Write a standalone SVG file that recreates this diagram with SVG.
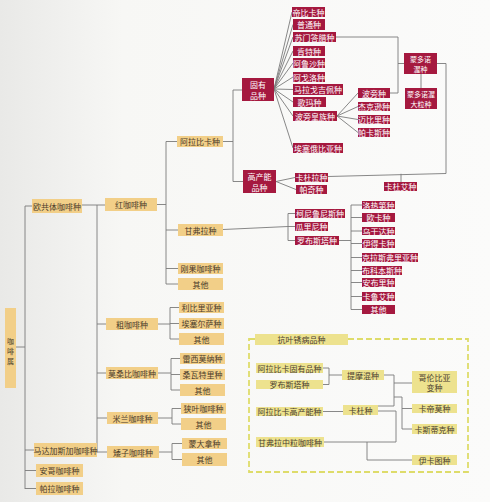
<svg xmlns="http://www.w3.org/2000/svg" width="490" height="502" viewBox="0 0 490 502">
<defs>
<linearGradient id="bg" x1="0" y1="0" x2="1" y2="0">
<stop offset="0" stop-color="#e9e9e7"/>
<stop offset="0.25" stop-color="#f7f7f5"/>
<stop offset="1" stop-color="#fbfbfa"/>
</linearGradient>
</defs>
<style>
.t rect{fill:#f2cf88}
.t text{fill:#4a3b2a}
.r rect{fill:#a5193f}
.r text{fill:#ffffff}
.y rect{fill:#ede28e}
.y text{fill:#4a4030}
text{font-family:"Noto Sans CJK SC","Noto Sans",sans-serif;font-size:8px;text-anchor:middle;dominant-baseline:central}
.s{font-size:7px}
.c{fill:none;stroke:#7a7a7a;stroke-width:0.9}
</style>
<rect x="0" y="0" width="490" height="502" fill="url(#bg)"/>
<rect x="249" y="339" width="219" height="133" fill="none" stroke="#dedc6a" stroke-width="1.8" stroke-dasharray="6 3"/>
<g id="connectors" class="c">
<path d="M16 347H25M25 206V489M25 206H32M25 450H34M25 470.5H36M25 488.5H36"/>
<path d="M82 205H105M97 205V452M97 324H106M97 373H106M97 418H107M97 452H107"/>
<path d="M158 324H170M170 307.5V339M170 307.5H179M170 323.5H179M170 339H179"/>
<path d="M158 373H171M171 358.5V390M171 358.5H180M171 374.5H180M171 390H180"/>
<path d="M158 418H172M172 408.5V424M172 408.5H181M172 424H181"/>
<path d="M159 452H172M172 443.5V459.5M172 443.5H182M172 459.5H182"/>
<path d="M157 204.5H166M166 141.5V284M166 141.5H177M166 230H178M166 268.5H178M166 284H178"/>
<path d="M223 141.5H233M233 90V181.5M233 90H242M233 181.5H243"/>
<path d="M274 89L292 12M274 89L293 24.5M274 89L293 37M274 89L293 51M274 89L293 63M274 89L293 77M274 89L293 89.5M274 89L293 102M274 89L293 116M274 89L293 148"/>
<path d="M337 116L358 93M337 116L358 106.5M337 116L358 119.5M337 116L358 132.5"/>
<path d="M336 37H398V93H390M398 63.5H404M421 73V89"/>
<path d="M437 63.5H446V173.5L328 176.5M401 173.8V182"/>
<path d="M276 181.5L295 177.5M276 181.5L296 189.5"/>
<path d="M223 229.5L288 226.5M288 213.5V240.5M288 213.5H295M288 226.5H295M288 240.5H295"/>
<path d="M339 240.5H351M351 205V309.5M351 205H362M351 217.5H362M351 231H362M351 243.5H362M351 257.5H362M351 270.5H362M351 282.5H362M351 296.5H362M351 309.5H362"/>
<path d="M323 368H329M323 384.5H329M329 368V384.5M329 375H342"/>
<path d="M323 411.5H343"/>
<path d="M384 375H394V406M394 383H412M394 397H402V429M402 408.5H412M402 429H412M378 406H394"/>
<path d="M378 411H396V442H324M367 442V460H412"/>
</g>
<g id="n_root" class="t"><rect x="5" y="308" width="11" height="80"/><text class="s" x="10.5" y="341">咖</text><text class="s" x="10.5" y="351">啡</text><text class="s" x="10.5" y="361">属</text></g>
<g id="n_ouguo" class="t"><rect x="32" y="199" width="50" height="14"/><text x="57" y="206">欧共体咖啡种</text></g>
<g id="n_mada" class="t"><rect x="34" y="443" width="63" height="14"/><text x="65.5" y="450">马达加斯加咖啡种</text></g>
<g id="n_ange" class="t"><rect x="36" y="464" width="47" height="13"/><text x="59.5" y="470.5">安哥咖啡种</text></g>
<g id="n_pala" class="t"><rect x="36" y="482" width="47" height="13"/><text x="59.5" y="488.5">帕拉咖啡种</text></g>
<g id="n_hong" class="t"><rect x="105" y="198" width="52" height="13"/><text x="131" y="204.5">红咖啡种</text></g>
<g id="n_cu" class="t"><rect x="106" y="318" width="52" height="12"/><text x="132" y="324">粗咖啡种</text></g>
<g id="n_mosang" class="t"><rect x="106" y="367" width="52" height="12"/><text x="132" y="373">莫桑比咖啡种</text></g>
<g id="n_milan" class="t"><rect x="107" y="412" width="51" height="12"/><text x="132.5" y="418">米兰咖啡种</text></g>
<g id="n_aizi" class="t"><rect x="107" y="446" width="52" height="12"/><text x="133" y="452">矮子咖啡种</text></g>
<g id="n_libili" class="t"><rect x="179" y="302" width="45" height="11"/><text x="201.5" y="307.5">利比里亚种</text></g>
<g id="n_aisai" class="t"><rect x="179" y="318" width="45" height="11"/><text x="201.5" y="323.5">埃塞尔萨种</text></g>
<g id="n_qita1" class="t"><rect x="179" y="333" width="45" height="12"/><text x="201.5" y="339">其他</text></g>
<g id="n_leixi" class="t"><rect x="180" y="353" width="45" height="11"/><text x="202.5" y="358.5">雷西莫纳种</text></g>
<g id="n_sangwa" class="t"><rect x="180" y="369" width="45" height="11"/><text x="202.5" y="374.5">桑瓦特里种</text></g>
<g id="n_qita2" class="t"><rect x="180" y="384" width="45" height="12"/><text x="202.5" y="390">其他</text></g>
<g id="n_xiaye" class="t"><rect x="181" y="403" width="45" height="11"/><text x="203.5" y="408.5">狭叶咖啡种</text></g>
<g id="n_qita3" class="t"><rect x="181" y="418" width="45" height="12"/><text x="203.5" y="424">其他</text></g>
<g id="n_mengda" class="t"><rect x="182" y="438" width="45" height="11"/><text x="204.5" y="443.5">蒙大拿种</text></g>
<g id="n_qita4" class="t"><rect x="182" y="453" width="45" height="13"/><text x="204.5" y="459.5">其他</text></g>
<g id="n_alabika" class="t"><rect x="177" y="136" width="46" height="11"/><text x="200" y="141.5">阿拉比卡种</text></g>
<g id="n_ganfu" class="t"><rect x="178" y="224" width="45" height="12"/><text x="200.5" y="230">甘弗拉种</text></g>
<g id="n_gangguo" class="t"><rect x="178" y="263" width="45" height="11"/><text x="200.5" y="268.5">刚果咖啡种</text></g>
<g id="n_qita5" class="t"><rect x="178" y="278" width="45" height="12"/><text x="200.5" y="284">其他</text></g>
<g id="n_guyou" class="r"><rect x="242" y="78" width="32" height="23"/><text x="258" y="84">固有</text><text x="258" y="95">品种</text></g>
<g id="n_gaochan" class="r"><rect x="243" y="170" width="33" height="23"/><text x="259.5" y="176">高产能</text><text x="259.5" y="187">品种</text></g>
<g id="n_dibika" class="r"><rect x="292" y="7" width="33" height="10"/><text x="308.5" y="12">帝比卡种</text></g>
<g id="n_putong" class="r"><rect x="293" y="19" width="32" height="11"/><text x="309" y="24.5">普通种</text></g>
<g id="n_sumen" class="r"><rect x="293" y="32" width="43" height="10"/><text x="314.5" y="37">苏门答腊种</text></g>
<g id="n_kente" class="r"><rect x="293" y="46" width="32" height="10"/><text x="309" y="51">肯特种</text></g>
<g id="n_alusha" class="r"><rect x="293" y="58" width="32" height="10"/><text x="309" y="63">阿鲁沙种</text></g>
<g id="n_age" class="r"><rect x="293" y="72" width="32" height="10"/><text x="309" y="77">阿戈洛种</text></g>
<g id="n_malage" class="r"><rect x="293" y="84" width="50" height="11"/><text x="318" y="89.5">马拉戈吉佩种</text></g>
<g id="n_gema" class="r"><rect x="293" y="97" width="33" height="10"/><text x="309.5" y="102">歌玛种</text></g>
<g id="n_bobanhuang" class="r"><rect x="293" y="111" width="44" height="10"/><text x="315" y="116">波旁皇族种</text></g>
<g id="n_aisaiebiya" class="r"><rect x="293" y="143" width="50" height="10"/><text x="318" y="148">埃塞俄比亚种</text></g>
<g id="n_bopang" class="r"><rect x="358" y="88" width="32" height="10"/><text x="374" y="93">波旁种</text></g>
<g id="n_jieke" class="r"><rect x="358" y="102" width="32" height="9"/><text x="374" y="106.5">杰克逊种</text></g>
<g id="n_maibi" class="r"><rect x="358" y="115" width="32" height="9"/><text x="374" y="119.5">迈比里种</text></g>
<g id="n_paka" class="r"><rect x="358" y="128" width="32" height="9"/><text x="374" y="132.5">帕卡斯种</text></g>
<g id="n_mengduo" class="r"><rect x="404" y="53" width="33" height="21"/><text class="s" x="420.5" y="58.5">蒙多诺</text><text class="s" x="420.5" y="68.5">渥种</text></g>
<g id="n_mengduoda" class="r"><rect x="405" y="88" width="32" height="21"/><text class="s" x="421" y="93.5">蒙多诺渥</text><text class="s" x="421" y="103.5">大粒种</text></g>
<g id="n_kadula" class="r"><rect x="295" y="173" width="33" height="9"/><text x="311.5" y="177.5">卡杜拉种</text></g>
<g id="n_paqi" class="r"><rect x="296" y="185" width="31" height="9"/><text x="311.5" y="189.5">帕奇种</text></g>
<g id="n_kaduai" class="r"><rect x="384" y="182" width="33" height="9"/><text x="400.5" y="186.5">卡杜艾种</text></g>
<g id="n_keni" class="r"><rect x="295" y="209" width="50" height="9"/><text x="320" y="213.5">柯尼鲁尼斯种</text></g>
<g id="n_guali" class="r"><rect x="295" y="222" width="33" height="9"/><text x="311.5" y="226.5">瓜里尼种</text></g>
<g id="n_luobu" class="r"><rect x="295" y="236" width="44" height="9"/><text x="317" y="240.5">罗布斯塔种</text></g>
<g id="n_luore" class="r"><rect x="362" y="201" width="33" height="8"/><text x="378.5" y="205">洛热第种</text></g>
<g id="n_ouka" class="r"><rect x="362" y="213" width="33" height="9"/><text x="378.5" y="217.5">欧卡种</text></g>
<g id="n_wugan" class="r"><rect x="362" y="227" width="33" height="8"/><text x="378.5" y="231">乌干达种</text></g>
<g id="n_yide" class="r"><rect x="362" y="239" width="33" height="9"/><text x="378.5" y="243.5">伊得卡种</text></g>
<g id="n_kelasi" class="r"><rect x="362" y="253" width="56" height="9"/><text x="390" y="257.5">克拉斯弗里亚种</text></g>
<g id="n_buke" class="r"><rect x="362" y="266" width="40" height="9"/><text x="382" y="270.5">布科本斯种</text></g>
<g id="n_anbuli" class="r"><rect x="362" y="278" width="33" height="9"/><text x="378.5" y="282.5">安布里种</text></g>
<g id="n_kalu" class="r"><rect x="362" y="292" width="33" height="9"/><text x="378.5" y="296.5">卡鲁艾种</text></g>
<g id="n_qita6" class="r"><rect x="362" y="305" width="33" height="9"/><text x="378.5" y="309.5">其他</text></g>
<g id="n_title" class="y"><rect x="255" y="334" width="93" height="11"/><text x="301.5" y="339.5">抗叶锈病品种</text></g>
<g id="n_arabgu" class="y"><rect x="256" y="363" width="67" height="10"/><text x="289.5" y="368">阿拉比卡固有品种</text></g>
<g id="n_luobu2" class="y"><rect x="256" y="380" width="67" height="9"/><text x="289.5" y="384.5">罗布斯塔种</text></g>
<g id="n_arabgao" class="y"><rect x="256" y="407" width="67" height="9"/><text x="289.5" y="411.5">阿拉比卡高产能种</text></g>
<g id="n_ganfu2" class="y"><rect x="256" y="437" width="68" height="10"/><text x="290" y="442">甘弗拉中粒咖啡种</text></g>
<g id="n_timo" class="y"><rect x="342" y="370" width="42" height="10"/><text x="363" y="375">提摩混种</text></g>
<g id="n_kadu" class="y"><rect x="343" y="405" width="35" height="10"/><text x="360.5" y="410">卡杜种</text></g>
<g id="n_gelun" class="y"><rect x="412" y="371" width="45" height="22"/><text x="434.5" y="377">哥伦比亚</text><text x="434.5" y="387.5">变种</text></g>
<g id="n_kadimo" class="y"><rect x="412" y="404" width="45" height="9"/><text x="434.5" y="408.5">卡帝莫种</text></g>
<g id="n_kasi" class="y"><rect x="412" y="424" width="45" height="10"/><text x="434.5" y="429">卡斯蒂克种</text></g>
<g id="n_yika" class="y"><rect x="412" y="455" width="45" height="10"/><text x="434.5" y="460">伊卡图种</text></g>
</svg>
